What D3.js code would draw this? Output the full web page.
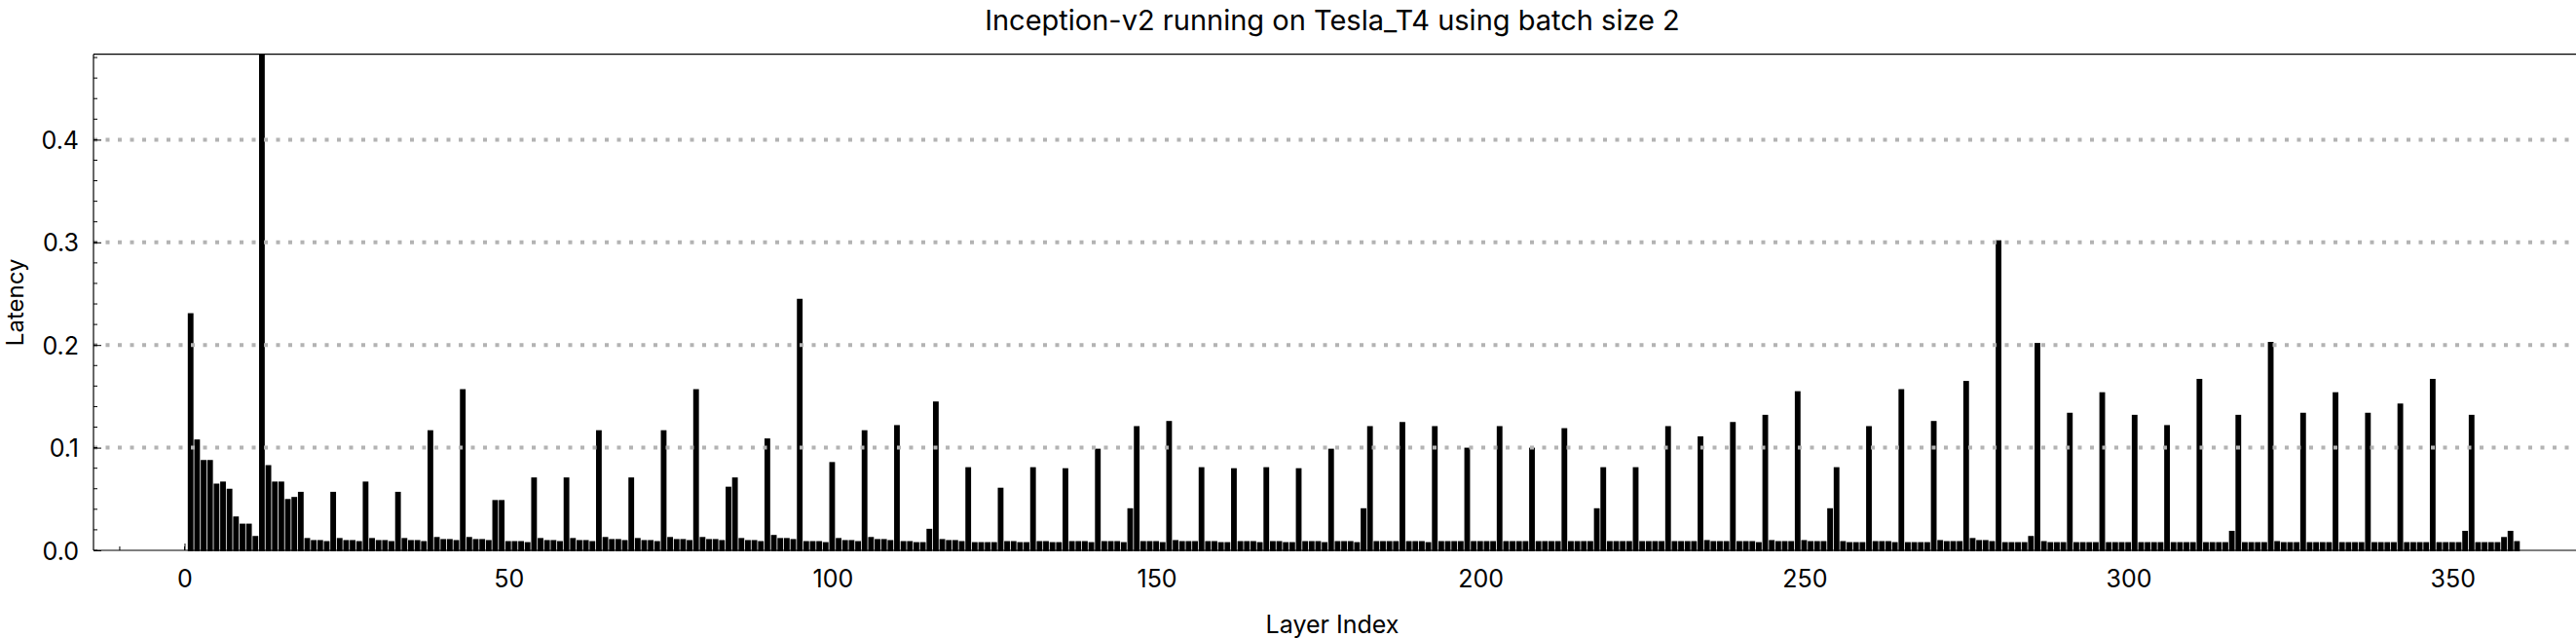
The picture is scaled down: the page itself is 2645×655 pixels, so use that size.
<!DOCTYPE html>
<html>
<head>
<meta charset="utf-8">
<script src="https://cdn.jsdelivr.net/npm/d3@7"></script>
<style>
  html, body { margin: 0; padding: 0; background: #fff; }
  svg { display: block; }
  text { font-family: Inter, "Noto Sans", "DejaVu Sans", sans-serif; fill: #000; }
</style>
</head>
<body>
<svg id="chart" width="2645" height="655"></svg>
<script>
// ---------- data ----------
const title = "Inception-v2 running on Tesla_T4 using batch size 2";
const xLabel = "Layer Index";
const yLabel = "Latency";
const layerStart = 1; // first layer index
const latency = [
  0.231,0.108,0.088,0.088,0.065,0.067,0.060,0.033,0.026,0.026,
  0.014,0.483,0.083,0.067,0.067,0.050,0.052,0.057,0.012,0.010,
  0.010,0.009,0.057,0.012,0.010,0.010,0.009,0.067,0.012,0.010,
  0.010,0.009,0.057,0.012,0.010,0.010,0.009,0.117,0.013,0.011,
  0.011,0.010,0.157,0.013,0.011,0.011,0.010,0.049,0.049,0.009,
  0.009,0.009,0.008,0.071,0.012,0.010,0.010,0.009,0.071,0.012,
  0.010,0.010,0.009,0.117,0.013,0.011,0.011,0.010,0.071,0.012,
  0.010,0.010,0.009,0.117,0.013,0.011,0.011,0.010,0.157,0.013,
  0.011,0.011,0.010,0.062,0.071,0.012,0.010,0.010,0.009,0.109,
  0.015,0.012,0.012,0.011,0.245,0.009,0.009,0.009,0.008,0.086,
  0.012,0.010,0.010,0.009,0.117,0.013,0.011,0.011,0.010,0.122,
  0.009,0.009,0.008,0.008,0.021,0.145,0.011,0.010,0.010,0.009,
  0.081,0.008,0.008,0.008,0.008,0.061,0.009,0.009,0.008,0.008,
  0.081,0.009,0.009,0.008,0.008,0.080,0.009,0.009,0.009,0.008,
  0.099,0.009,0.009,0.009,0.008,0.041,0.121,0.009,0.009,0.009,
  0.008,0.126,0.010,0.009,0.009,0.009,0.081,0.009,0.009,0.008,
  0.008,0.080,0.009,0.009,0.009,0.008,0.081,0.009,0.009,0.008,
  0.008,0.080,0.009,0.009,0.009,0.008,0.099,0.009,0.009,0.009,
  0.008,0.041,0.121,0.009,0.009,0.009,0.009,0.125,0.009,0.009,
  0.009,0.008,0.121,0.009,0.009,0.009,0.009,0.100,0.009,0.009,
  0.009,0.009,0.121,0.009,0.009,0.009,0.009,0.100,0.009,0.009,
  0.009,0.009,0.119,0.009,0.009,0.009,0.009,0.041,0.081,0.009,
  0.009,0.009,0.009,0.081,0.009,0.009,0.009,0.009,0.121,0.009,
  0.009,0.009,0.009,0.111,0.010,0.009,0.009,0.009,0.125,0.009,
  0.009,0.009,0.008,0.132,0.010,0.009,0.009,0.009,0.155,0.010,
  0.009,0.009,0.009,0.041,0.081,0.009,0.008,0.008,0.008,0.121,
  0.009,0.009,0.009,0.008,0.157,0.008,0.008,0.008,0.008,0.126,
  0.010,0.009,0.009,0.009,0.165,0.012,0.010,0.010,0.009,0.302,
  0.008,0.008,0.008,0.008,0.014,0.202,0.009,0.008,0.008,0.008,
  0.134,0.008,0.008,0.008,0.008,0.154,0.008,0.008,0.008,0.008,
  0.132,0.008,0.008,0.008,0.008,0.122,0.008,0.008,0.008,0.008,
  0.167,0.008,0.008,0.008,0.008,0.019,0.132,0.008,0.008,0.008,
  0.008,0.203,0.009,0.008,0.008,0.008,0.134,0.008,0.008,0.008,
  0.008,0.154,0.008,0.008,0.008,0.008,0.134,0.008,0.008,0.008,
  0.008,0.143,0.008,0.008,0.008,0.008,0.167,0.008,0.008,0.008,
  0.008,0.019,0.132,0.008,0.008,0.008,0.008,0.013,0.019,0.009
];
const xTickValues = [0, 50, 100, 150, 200, 250, 300, 350];
const yTickValues = [0.0, 0.1, 0.2, 0.3, 0.4];
const xDomain = [-14.05, 368.3];
const yDomain = [0, 0.4832];

// ---------- layout ----------
const W = 2645, H = 655;
const plot = { left: 96, right: 2640, top: 55.7, bottom: 565 };

const svg = d3.select("#chart");
const x = d3.scaleLinear().domain(xDomain).range([plot.left, plot.right]);
const y = d3.scaleLinear().domain(yDomain).range([plot.bottom, plot.top]);

const data = latency.map((v, k) => ({ layer: layerStart + k, value: v }));
const step = x(1) - x(0);

// clip
svg.append("clipPath").attr("id", "clip")
  .append("rect").attr("x", plot.left).attr("y", plot.top)
  .attr("width", W - plot.left).attr("height", plot.bottom - plot.top + 2);

// bars
svg.append("g").attr("clip-path", "url(#clip)")
  .selectAll("rect").data(data).join("rect")
  .attr("x", d => x(d.layer - 0.5))
  .attr("width", step - 0.8)
  .attr("y", d => y(d.value))
  .attr("height", d => y(0) - y(d.value) + 1)
  .attr("fill", "#000");

// gridlines (dotted, drawn above bars)
svg.append("g").selectAll("line").data(yTickValues.filter(v => v > 0)).join("line")
  .attr("x1", plot.left).attr("x2", W)
  .attr("y1", d => y(d)).attr("y2", d => y(d))
  .attr("stroke", "#b3b3b3").attr("stroke-width", 4)
  .attr("stroke-dasharray", "4 8.5");

// frame lines
const frame = svg.append("g").attr("stroke", "#000").attr("stroke-width", 1.2);
frame.append("line").attr("x1", plot.left).attr("x2", W).attr("y1", plot.bottom).attr("y2", plot.bottom);
frame.append("line").attr("x1", plot.left).attr("x2", W).attr("y1", plot.top).attr("y2", plot.top);
frame.append("line").attr("x1", plot.left).attr("x2", plot.left).attr("y1", plot.top).attr("y2", plot.bottom);

// y axis (ticks inward)
const yMinor = d3.range(0, 0.481, 0.02);
const yAxis = d3.axisLeft(y).tickValues(yTickValues).tickFormat(d3.format(".1f"))
  .tickSizeInner(-8).tickSizeOuter(0).tickPadding(15);
const gy = svg.append("g").attr("transform", `translate(${plot.left},0)`).call(yAxis);
gy.select(".domain").remove();
gy.selectAll("text").attr("font-size", 25).attr("font-family", "Inter, sans-serif").attr("dy", "0.36em");
svg.append("g").selectAll("line").data(yMinor).join("line")
  .attr("x1", plot.left).attr("x2", plot.left + 4)
  .attr("y1", d => y(d)).attr("y2", d => y(d))
  .attr("stroke", "#000").attr("stroke-width", 1);

// x axis (ticks inward)
const xMinor = d3.range(-10, 361, 10);
const xAxis = d3.axisBottom(x).tickValues(xTickValues).tickFormat(d3.format("d"))
  .tickSizeInner(-7).tickSizeOuter(0).tickPadding(0);
const gx = svg.append("g").attr("transform", `translate(0,${plot.bottom})`).call(xAxis);
gx.select(".domain").remove();
gx.selectAll("text").attr("font-size", 25).attr("font-family", "Inter, sans-serif").attr("y", 38).attr("dy", 0);
svg.append("g").selectAll("line").data(xMinor).join("line")
  .attr("x1", d => x(d)).attr("x2", d => x(d))
  .attr("y1", plot.bottom).attr("y2", plot.bottom - 4)
  .attr("stroke", "#000").attr("stroke-width", 1);

// title & labels (centred on the plot area)
const cx = (plot.left + plot.right) / 2;
svg.append("text").attr("x", cx).attr("y", 31).attr("text-anchor", "middle")
  .attr("font-size", 29).text(title);
svg.append("text").attr("x", cx).attr("y", 650)
  .attr("text-anchor", "middle").attr("font-size", 25).text(xLabel);
svg.append("text").attr("transform", `translate(24,${(plot.top + plot.bottom) / 2}) rotate(-90)`)
  .attr("text-anchor", "middle").attr("font-size", 24).text(yLabel);
</script>
</body>
</html>
